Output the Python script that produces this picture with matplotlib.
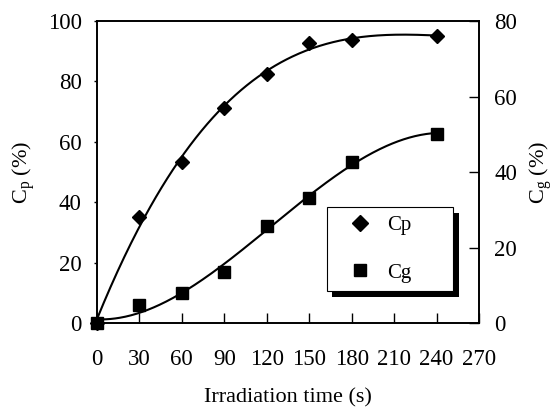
import numpy as np
import matplotlib
matplotlib.use("Agg")
import matplotlib.pyplot as plt
import matplotlib.patheffects as pe

plt.rcParams['font.family'] = ['Liberation Serif', 'DejaVu Serif']
plt.rcParams['mathtext.fontset'] = 'custom'
plt.rcParams['mathtext.rm'] = 'Liberation Serif'
plt.rcParams['mathtext.it'] = 'Liberation Serif:italic'

# Data
time_s = [0, 30, 60, 90, 120, 150, 180, 240]
cp_pct = [0, 35.1, 53.4, 71.3, 82.5, 92.6, 93.7, 95.1]   # left axis
cg_pct = [0, 4.8, 7.9, 13.6, 25.7, 33.1, 42.7, 50.1]     # right axis

x_ticks = [0, 30, 60, 90, 120, 150, 180, 210, 240, 270]
left_ticks = [0, 20, 40, 60, 80, 100]
right_ticks = [0, 20, 40, 60, 80]

fig = plt.figure(figsize=(5.54, 4.12), dpi=100)
ax = fig.add_axes([0.175, 0.216, 0.6896, 0.733])
ax2 = ax.twinx()

t = np.array(time_s, dtype=float)
tt = np.linspace(0, 240, 300)
pcp = np.polyfit(t, cp_pct, 3)
pcg = np.polyfit(t, cg_pct, 3)

ax.plot(tt, np.polyval(pcp, tt), color='k', lw=1.5)
ax2.plot(tt, np.polyval(pcg, tt), color='k', lw=1.5)
h1, = ax.plot(t, cp_pct, 'D', color='k', ms=7, ls='none', clip_on=False, label='Cp')
h2, = ax2.plot(t, cg_pct, 's', color='k', ms=8.5, ls='none', clip_on=False, label='Cg')

ax.set_xlim(0, 270)
ax.set_ylim(0, 100)
ax2.set_ylim(0, 80)
ax.set_xticks(x_ticks)
ax.set_yticks(left_ticks)
ax2.set_yticks(right_ticks)

ax.tick_params(axis='x', direction='in', length=7, width=1, pad=19, labelsize=16.5)
ax.tick_params(axis='y', direction='out', length=2, width=1, pad=9, labelsize=16.5)
ax2.tick_params(axis='y', direction='in', length=7, width=1, pad=11, labelsize=16.5)

for a in (ax, ax2):
    for s in a.spines.values():
        s.set_linewidth(1.2)
        s.set_color('k')

ax.set_xlabel('Irradiation time (s)', fontsize=16, labelpad=13)
ax.set_ylabel(r'C$_{\mathrm{p}}$ (%)', fontsize=16)
ax2.set_ylabel(r'C$_{\mathrm{g}}$ (%)', fontsize=16, rotation=90)
ax.yaxis.set_label_coords(-0.158, 0.5)
ax2.yaxis.set_label_coords(1.128, 0.5)

leg = ax2.legend(handles=[h1, h2], loc='upper left',
                 bbox_to_anchor=(0.602, 0.184, 0.330, 0.2), mode='expand',
                 frameon=True, fancybox=False, edgecolor='k', framealpha=1,
                 fontsize=15, handletextpad=0.1, borderpad=0.4, labelspacing=1.35,
                 handlelength=2.4, borderaxespad=0)
leg.get_frame().set_linewidth(0.8)
leg.get_frame().set_path_effects([
    pe.SimplePatchShadow(offset=(4, -4), shadow_rgbFace='k', alpha=1),
    pe.Normal()])
for lh in leg.legend_handles:
    lh.set_markersize(8)

fig.savefig('out.png', dpi=100)
